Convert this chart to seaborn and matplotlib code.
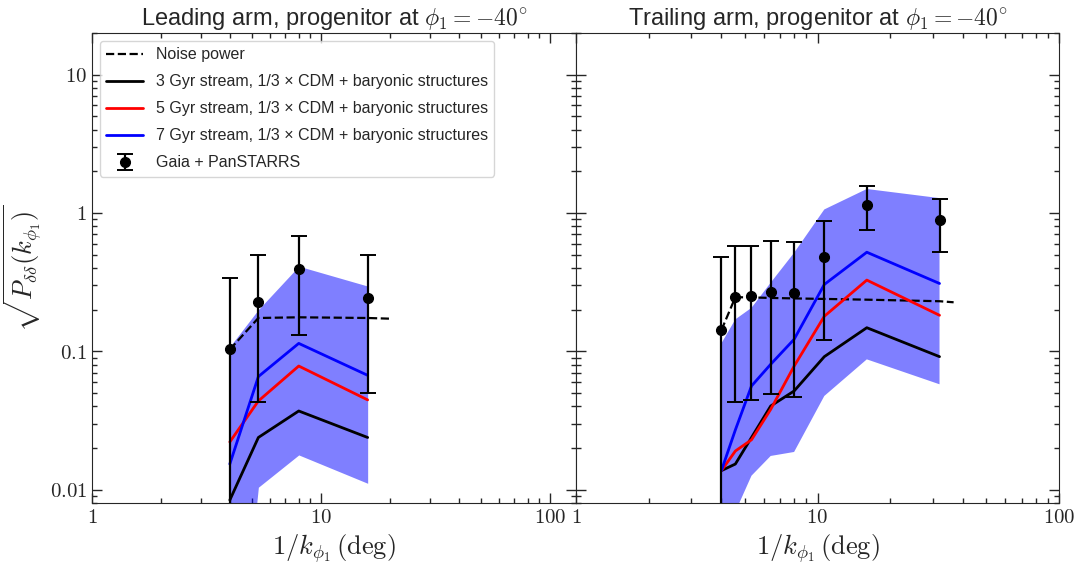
import numpy as np
import pandas as pd
import matplotlib
matplotlib.use("Agg")
import matplotlib.pyplot as plt
from matplotlib.ticker import FuncFormatter, LogLocator
import seaborn as sns

# leading arm (progenitor at phi1 = -40)
lead_x = [4.0, 5.33, 8.0, 16.0]
lead_obs = [0.103, 0.228, 0.396, 0.242]
lead_obs_hi = [0.337, 0.494, 0.678, 0.50]
lead_obs_lo = [0.0, 0.0428, 0.131, 0.0497]
lead_noise_x = [4.0, 5.33, 8.0, 16.0, 20.0]
lead_noise = [0.103, 0.174, 0.176, 0.174, 0.172]
lead_3gyr = [0.0084, 0.0238, 0.037, 0.0238]
lead_5gyr = [0.0221, 0.0437, 0.0782, 0.0445]
lead_7gyr = [0.0153, 0.0656, 0.114, 0.067]
lead_band_hi = [0.108, 0.20, 0.412, 0.296]
lead_band_lo = [0.0001, 0.0104, 0.0178, 0.0111]

# trailing arm
trail_x = [4.0, 4.57, 5.33, 6.4, 8.0, 10.67, 16.0, 32.0]
trail_obs = [0.142, 0.246, 0.249, 0.269, 0.262, 0.478, 1.15, 0.885]
trail_obs_hi = [0.478, 0.574, 0.58, 0.624, 0.614, 0.88, 1.56, 1.26]
trail_obs_lo = [0.0, 0.043, 0.0445, 0.0494, 0.047, 0.12, 0.749, 0.523]
trail_noise_x = [4.0, 4.57, 5.33, 6.4, 8.0, 10.67, 16.0, 32.0, 36.6]
trail_noise = [0.142, 0.246, 0.245, 0.243, 0.241, 0.239, 0.236, 0.230, 0.226]
trail_3gyr = [0.0137, 0.0153, 0.0238, 0.0402, 0.0516, 0.0914, 0.148, 0.0914]
trail_5gyr = [0.0137, 0.019, 0.0229, 0.038, 0.078, 0.179, 0.327, 0.182]
trail_7gyr = [0.0137, 0.027, 0.0561, 0.0805, 0.122, 0.304, 0.52, 0.309]
trail_band_hi = [0.114, 0.17, 0.206, 0.313, 0.515, 1.06, 1.49, 1.28]
trail_band_lo = [0.0001, 0.0069, 0.0126, 0.0175, 0.0187, 0.0475, 0.0874, 0.0577]

titles = [r"Leading arm, progenitor at $\phi_1 = -40^{\circ}$",
          r"Trailing arm, progenitor at $\phi_1 = -40^{\circ}$"]

sns.set_style("ticks")
plt.rcParams["font.family"] = ["Liberation Sans", "DejaVu Sans"]
plt.rcParams["mathtext.fontset"] = "cm"

fig = plt.figure(figsize=(10.81, 5.64), dpi=100)
ax1 = fig.add_axes([0.0851, 0.1082, 0.4477, 0.8333])
ax2 = fig.add_axes([0.5328, 0.1082, 0.4469, 0.8333])

panels = [
    (ax1, lead_x, lead_obs, lead_obs_hi, lead_obs_lo, lead_noise_x, lead_noise,
     lead_3gyr, lead_5gyr, lead_7gyr, lead_band_hi, lead_band_lo, (1, 130)),
    (ax2, trail_x, trail_obs, trail_obs_hi, trail_obs_lo, trail_noise_x, trail_noise,
     trail_3gyr, trail_5gyr, trail_7gyr, trail_band_hi, trail_band_lo, (1, 100)),
]

fmt = FuncFormatter(lambda v, p: r"$%g$" % v)

for i, (ax, x, obs, hi, lo, nx, nz, g3, g5, g7, bhi, blo, xlim) in enumerate(panels):
    ax.set_xscale("log")
    ax.set_yscale("log")
    ax.fill_between(x, blo, bhi, color="b", alpha=0.5, lw=0)
    sns.lineplot(x=nx, y=nz, ax=ax, color="k", ls="--", lw=1.6, label="Noise power")
    sns.lineplot(x=x, y=g3, ax=ax, color="k", lw=2,
                 label="3 Gyr stream, 1/3 \u00d7 CDM + baryonic structures")
    sns.lineplot(x=x, y=g5, ax=ax, color="r", lw=2,
                 label="5 Gyr stream, 1/3 \u00d7 CDM + baryonic structures")
    sns.lineplot(x=x, y=g7, ax=ax, color="b", lw=2,
                 label="7 Gyr stream, 1/3 \u00d7 CDM + baryonic structures")
    obs = np.array(obs)
    yerr = [obs - np.array(lo), np.array(hi) - obs]
    ax.errorbar(x, obs, yerr=yerr, fmt="o", color="k", ms=7, elinewidth=1.6,
                capsize=6, capthick=1.4, label="Gaia + PanSTARRS")
    ax.set_xlim(*xlim)
    ax.set_ylim(0.008, 20)
    ax.xaxis.set_major_formatter(fmt)
    ax.yaxis.set_major_formatter(fmt)
    ax.xaxis.set_minor_formatter(plt.NullFormatter())
    ax.xaxis.set_minor_locator(LogLocator(subs=np.arange(2, 10), numticks=20))
    ax.yaxis.set_minor_locator(LogLocator(subs=np.arange(2, 10), numticks=20))
    ax.tick_params(which="both", direction="in", top=True, right=True,
                   labelsize=15, width=1)
    ax.tick_params(which="major", length=7)
    ax.tick_params(which="minor", length=3.5)
    ax.set_xlabel(r"$1/k_{\phi_1}\,(\mathrm{deg})$", fontsize=19)
    ax.set_title(titles[i], fontsize=17)
    if ax.get_legend():
        ax.get_legend().remove()
    if i == 0:
        ax.set_ylabel(r"$\sqrt{P_{\delta\delta}(k_{\phi_1})}$", fontsize=19)
        h, l = ax.get_legend_handles_labels()
        ax.legend(h, l, loc="upper left", fontsize=11.5, handlelength=2.3,
                  labelspacing=0.75)
    else:
        ax.tick_params(labelleft=False)

fig.savefig("out.png", dpi=100)
